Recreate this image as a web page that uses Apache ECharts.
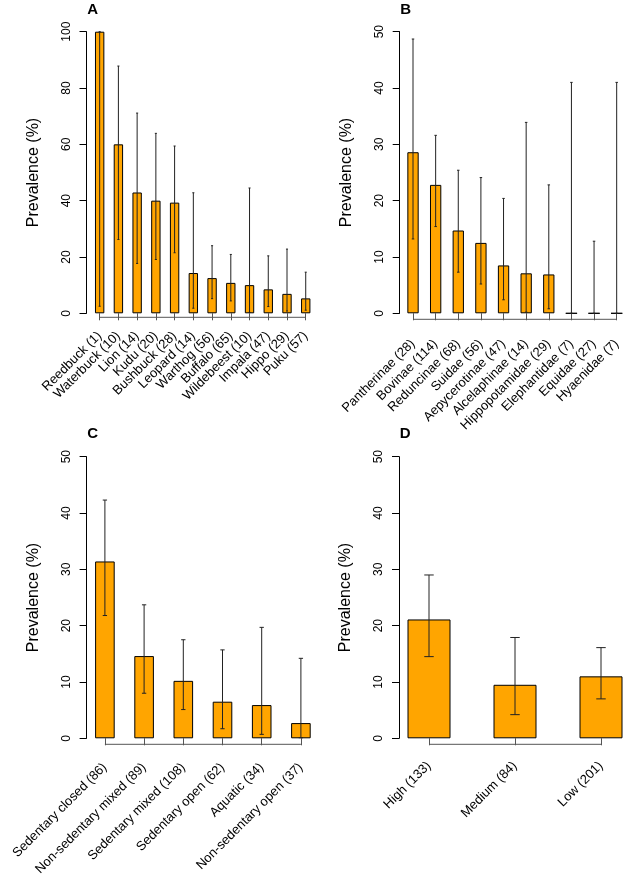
<!DOCTYPE html>
<html><head><meta charset="utf-8">
<script src="https://cdn.jsdelivr.net/npm/echarts@6/dist/echarts.min.js"></script>
<style>html,body{margin:0;padding:0;background:#fff}#c{width:626px;height:879px}</style>
</head><body><div id="c"></div>
<script>
// ---- Panel A: species ----
const catsA = ['Reedbuck (1)', 'Waterbuck (10)', 'Lion (14)', 'Kudu (20)', 'Bushbuck (28)', 'Leopard (14)', 'Warthog (56)', 'Buffalo (65)', 'Wildebeest (10)', 'Impala (47)', 'Hippo (29)', 'Puku (57)'];
const valsA = [100, 60, 42.9, 40, 39.3, 14.3, 12.5, 10.8, 10, 8.5, 6.9, 5.3];
const lowA  = [2.5, 26.2, 17.7, 19.1, 21.5, 1.8, 5.2, 4.4, 0.3, 2.4, 0.8, 1.1];
const highA = [100, 87.8, 71.1, 63.9, 59.4, 42.8, 24.0, 20.9, 44.5, 20.4, 22.8, 14.6];
// ---- Panel B: subfamily / family ----
const catsB = ['Pantherinae (28)', 'Bovinae (114)', 'Reduncinae (68)', 'Suidae (56)', 'Aepycerotinae (47)', 'Alcelaphinae (14)', 'Hippopotamidae (29)', 'Elephantidae (7)', 'Equidae (27)', 'Hyaenidae (7)'];
const valsB = [28.6, 22.8, 14.7, 12.5, 8.5, 7.1, 6.9, 0, 0, 0];
const lowB  = [13.2, 15.4, 7.3, 5.2, 2.4, 0.2, 0.8, 0, 0, 0];
const highB = [48.7, 31.6, 25.4, 24.1, 20.4, 33.9, 22.8, 41.0, 12.8, 41.0];
// ---- Panel C: habitat ----
const catsC = ['Sedentary closed (86)', 'Non-sedentary mixed (89)', 'Sedentary mixed (108)', 'Sedentary open (62)', 'Aquatic (34)', 'Non-sedentary open (37)'];
const valsC = [31.4, 14.6, 10.2, 6.5, 5.9, 2.7];
const lowC  = [21.8, 8.0, 5.1, 1.7, 0.7, 0.1];
const highC = [42.3, 23.7, 17.5, 15.7, 19.7, 14.2];
// ---- Panel D: level ----
const catsD = ['High (133)', 'Medium (84)', 'Low (201)'];
const valsD = [21.1, 9.5, 11.0];
const lowD  = [14.5, 4.2, 7.0];
const highD = [29.0, 17.9, 16.1];
// ---- axes ----
const yMaxA = 100, yStepA = 20;
const yMaxOther = 50, yStepOther = 10;
const panelLetters = ['A', 'B', 'C', 'D'];
const yTitle = 'Prevalence (%)';

const FONT = '"Liberation Sans", Arial, Helvetica, sans-serif';
const panels = [
  {cats: catsA, vals: valsA, low: lowA, high: highA, max: yMaxA, step: yStepA,
   grid: {left: 90.3, top: 31.7, width: 224.8, height: 281.6}, yOff: 3.8, xOff: 4, lm: 16.5, letter: [87.3, 11.5]},
  {cats: catsB, vals: valsB, low: lowB, high: highB, max: yMaxOther, step: yStepOther,
   grid: {left: 401.7, top: 31.7, width: 226.3, height: 281.6}, yOff: 2, xOff: 6, lm: 22.5, letter: [400.3, 11.5]},
  {cats: catsC, vals: valsC, low: lowC, high: highC, max: yMaxOther, step: yStepOther,
   grid: {left: 85.3, top: 456.7, width: 235.2, height: 281.6}, yOff: -1.3, xOff: 6, lm: 21, letter: [87.3, 435.5]},
  {cats: catsD, vals: valsD, low: lowD, high: highD, max: yMaxOther, step: yStepOther,
   grid: {left: 386, top: 456.7, width: 258, height: 281.6}, yOff: -13, xOff: 6, lm: 19.5, letter: [399.7, 435.5]}
];

const grid = [], xAxis = [], yAxis = [], series = [], graphic = [];
panels.forEach((p, i) => {
  grid.push(Object.assign({containLabel: false, outerBoundsMode: 'none'}, p.grid));
  xAxis.push({
    gridIndex: i, type: 'category', data: p.cats, offset: p.xOff,
    axisLine: {show: false},
    axisTick: {show: true, alignWithLabel: true, interval: 0, length: 7, lineStyle: {color: '#555', width: 1}},
    axisLabel: {rotate: 45, interval: 0, margin: p.lm, fontSize: 13, color: '#000', fontFamily: FONT},
    splitLine: {show: false}
  });
  yAxis.push({
    gridIndex: i, type: 'value', min: 0, max: p.max, interval: p.step, offset: p.yOff,
    axisLine: {show: true, lineStyle: {color: '#000', width: 1}},
    axisTick: {show: true, length: 7, lineStyle: {color: '#000', width: 1}},
    axisLabel: {rotate: 90, margin: 14, fontSize: 12, color: '#000', fontFamily: FONT},
    splitLine: {show: false},
    name: yTitle, nameLocation: 'middle', nameGap: 45, nameRotate: 90,
    nameTextStyle: {fontSize: 16, color: '#000', fontFamily: FONT}
  });
  series.push({
    type: 'bar', xAxisIndex: i, yAxisIndex: i, data: p.vals, barWidth: '50%', silent: true,
    itemStyle: {color: '#FFA500', borderColor: '#000', borderWidth: 1}, z: 2
  });
  series.push({
    type: 'custom', xAxisIndex: i, yAxisIndex: i, silent: true, z: 3,
    data: p.cats.map((c, j) => [j, p.low[j], p.high[j]]),
    encode: {x: 0, y: [1, 2]},
    renderItem: function (params, api) {
      const x = api.value(0);
      const lo = api.coord([x, api.value(1)]);
      const hi = api.coord([x, api.value(2)]);
      const w = api.size([1, 0])[0] * 0.11;
      const st = {stroke: '#222', lineWidth: 1};
      return {type: 'group', children: [
        {type: 'line', shape: {x1: lo[0], y1: lo[1], x2: hi[0], y2: hi[1]}, style: st},
        {type: 'line', shape: {x1: hi[0] - w / 2, y1: hi[1], x2: hi[0] + w / 2, y2: hi[1]}, style: st},
        {type: 'line', shape: {x1: lo[0] - w / 2, y1: lo[1], x2: lo[0] + w / 2, y2: lo[1]}, style: st}
      ]};
    }
  });
  const off = p.xOff;
  series.push({
    type: 'custom', xAxisIndex: i, yAxisIndex: i, silent: true, z: 3,
    data: [[0, p.cats.length - 1]],
    encode: {x: [0, 1]},
    renderItem: function (params, api) {
      const a = api.coord([api.value(0), 0]);
      const b = api.coord([api.value(1), 0]);
      return {type: 'line', shape: {x1: a[0], y1: a[1] + off, x2: b[0], y2: a[1] + off},
              style: {stroke: '#555', lineWidth: 1}};
    }
  });
  graphic.push({
    type: 'text', left: p.letter[0], top: p.letter[1] - 9, silent: true,
    style: {text: panelLetters[i], font: 'bold 15px ' + FONT, fill: '#000'}
  });
});

const chart = echarts.init(document.getElementById('c'), null, {renderer: 'canvas'});
chart.setOption({animation: false, backgroundColor: '#fff', grid, xAxis, yAxis, series, graphic});
</script>
</body></html>
